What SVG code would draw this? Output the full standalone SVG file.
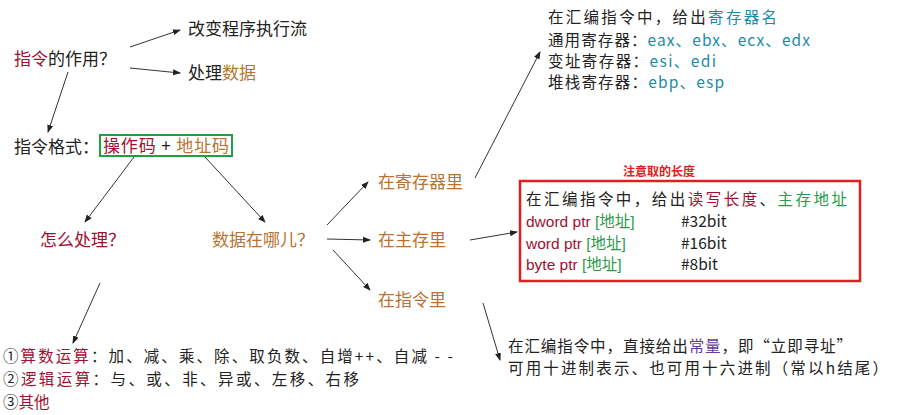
<svg xmlns="http://www.w3.org/2000/svg" width="900" height="415" viewBox="0 0 900 415">
<style>
text{font-family:"Noto Sans CJK SC","Liberation Sans",sans-serif;font-size:17px;fill:#222}
.s{font-size:15.5px}
.r{fill:#a01030}.b{fill:#b87333}.t{fill:#1a8aa8}.g{fill:#2a9a4a}.p{fill:#6a3a9a}
.c line{stroke:#333;stroke-width:1;marker-end:url(#a)}
</style>
<defs><marker id="a" markerWidth="8" markerHeight="8" refX="7" refY="4" orient="auto" markerUnits="userSpaceOnUse"><path d="M0,1 L8,4 L0,7Z" fill="#222"/></marker></defs>
<rect width="900" height="415" fill="#fff"/>
<g class="c">
<line x1="130" y1="47" x2="180" y2="30"/>
<line x1="130" y1="68" x2="180" y2="73"/>
<line x1="68" y1="72" x2="48" y2="132"/>
<line x1="134" y1="157" x2="85" y2="222"/>
<line x1="205" y1="157" x2="265" y2="222"/>
<line x1="327" y1="225" x2="368" y2="182"/>
<line x1="327" y1="239" x2="370" y2="240"/>
<line x1="333" y1="250" x2="370" y2="290"/>
<line x1="475" y1="178" x2="540" y2="52"/>
<line x1="470" y1="240" x2="517" y2="232"/>
<line x1="483" y1="303" x2="500" y2="360"/>
<line x1="100" y1="283" x2="73" y2="343"/>
</g>
<g id="n1"><text x="14" y="65"><tspan class="r">指令</tspan>的作用？</text></g>
<g id="n2"><text x="188" y="35">改变程序执行流</text></g>
<g id="n3"><text x="188" y="79">处理<tspan class="b">数据</tspan></text></g>
<g id="n4"><text x="14" y="153">指令格式：</text><rect x="100" y="135" width="132" height="21" fill="none" stroke="#22a040" stroke-width="2"/><text x="103" y="152" textLength="126"><tspan class="r">操作码</tspan> + <tspan class="b">地址码</tspan></text></g>
<g id="n5"><text x="40" y="246" class="r">怎么处理？</text></g>
<g id="n6"><text x="212" y="246" class="b">数据在哪儿？</text></g>
<g id="n7"><text x="378" y="188" class="b">在寄存器里</text></g>
<g id="n8"><text x="378" y="246" class="b">在主存里</text></g>
<g id="n9"><text x="378" y="306" class="b">在指令里</text></g>
<g id="n10">
<text class="s" x="548" y="23" textLength="229">在汇编指令中，给出<tspan class="t">寄存器名</tspan></text>
<text class="s" x="548" y="46" textLength="262">通用寄存器：<tspan class="t">eax、ebx、ecx、edx</tspan></text>
<text class="s" x="548" y="67" textLength="168">变址寄存器：<tspan class="t">esi、edi</tspan></text>
<text class="s" x="548" y="88" textLength="176">堆栈寄存器：<tspan class="t">ebp、esp</tspan></text>
</g>
<g id="n11">
<text x="623" y="176" style="font-size:12px;font-weight:bold;fill:#e02020">注意取的长度</text>
<rect x="520" y="181" width="340" height="100" fill="none" stroke="#e02020" stroke-width="2.5"/>
<text class="s" x="526" y="205" textLength="321">在汇编指令中，给出<tspan class="r">读写长度</tspan>、<tspan class="g">主存地址</tspan></text>
<text class="s r" x="526" y="227" style="font-family:'Liberation Sans','Noto Sans CJK SC',sans-serif">dword ptr <tspan class="g">[地址]</tspan></text><text class="s" x="681" y="227">#32bit</text>
<text class="s r" x="526" y="249" style="font-family:'Liberation Sans','Noto Sans CJK SC',sans-serif">word ptr <tspan class="g">[地址]</tspan></text><text class="s" x="681" y="249">#16bit</text>
<text class="s r" x="526" y="270" style="font-family:'Liberation Sans','Noto Sans CJK SC',sans-serif">byte ptr <tspan class="g">[地址]</tspan></text><text class="s" x="681" y="270">#8bit</text>
</g>
<g id="n12">
<text class="s" x="508" y="352" textLength="344">在汇编指令中，直接给出<tspan class="p">常量</tspan>，即“立即寻址”</text>
<text class="s" x="508" y="374" textLength="380">可用十进制表示、也可用十六进制（常以h结尾）</text>
</g>
<g id="n13">
<text class="s" x="3" y="362" textLength="450">①<tspan class="r">算数运算</tspan>：加、减、乘、除、取负数、自增++、自减 - -</text>
<text class="s" x="3" y="385" textLength="356">②<tspan class="r">逻辑运算</tspan>：与、或、非、异或、左移、右移</text>
<text class="s" x="3" y="408">③<tspan class="r">其他</tspan></text>
</g>
</svg>
